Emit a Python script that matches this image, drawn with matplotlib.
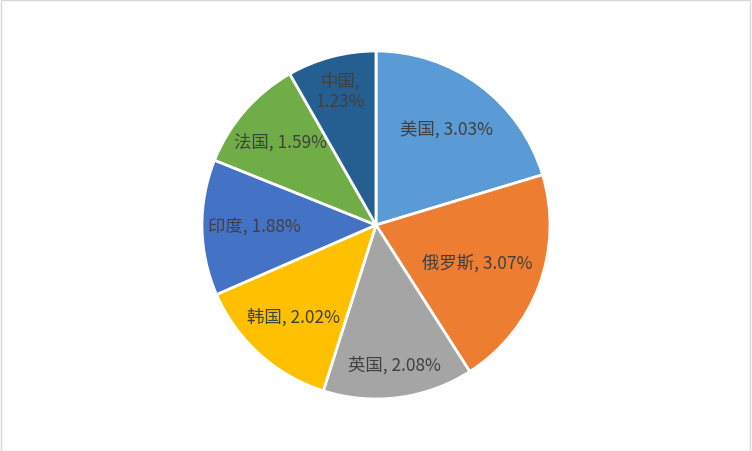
import matplotlib.pyplot as plt
from matplotlib.patches import Rectangle
import numpy as np

plt.rcParams['font.family'] = ['Noto Sans CJK SC', 'DejaVu Sans']

countries = ['美国', '俄罗斯', '英国', '韩国', '印度', '法国', '中国']
shares = [3.03, 3.07, 2.08, 2.02, 1.88, 1.59, 1.23]
colors = ['#5B9BD5', '#ED7D31', '#A5A5A5', '#FFC000', '#4472C4', '#70AD47', '#255E91']
# how far out each label sits (fraction of radius), like Excel's "best fit"
label_dist = [0.68, 0.62, 0.81, 0.71, 0.70, 0.73, 0.80]

labels = []
for c, v in zip(countries, shares):
    sep = ',\n' if c == '中国' else ', '
    labels.append(f'{c}{sep}{v:.2f}%')

fig = plt.figure(figsize=(7.52, 4.52), dpi=100)
fig.patches.append(Rectangle((0.001, 0.001), 0.997, 0.996, transform=fig.transFigure,
                             fill=False, edgecolor='#D9D9D9', linewidth=1))

ax = fig.add_axes([(376 - 174) / 752, (452 - 226 - 174) / 452, 348 / 752, 348 / 452])
wedges, texts = ax.pie(shares, labels=labels, colors=colors, startangle=90,
                       counterclock=False, labeldistance=0.7,
                       wedgeprops=dict(edgecolor='white', linewidth=2),
                       textprops=dict(color='#404040', fontsize=12.5))
for w, t, d in zip(wedges, texts, label_dist):
    ang = np.deg2rad((w.theta1 + w.theta2) / 2)
    t.set_position((d * np.cos(ang), d * np.sin(ang)))
    t.set_ha('center')
    t.set_va('center')
    t.set_multialignment('center')
ax.set_xlim(-1.0, 1.0)
ax.set_ylim(-1.0, 1.0)
ax.set_aspect('equal')

fig.savefig('out.png', dpi=100)
